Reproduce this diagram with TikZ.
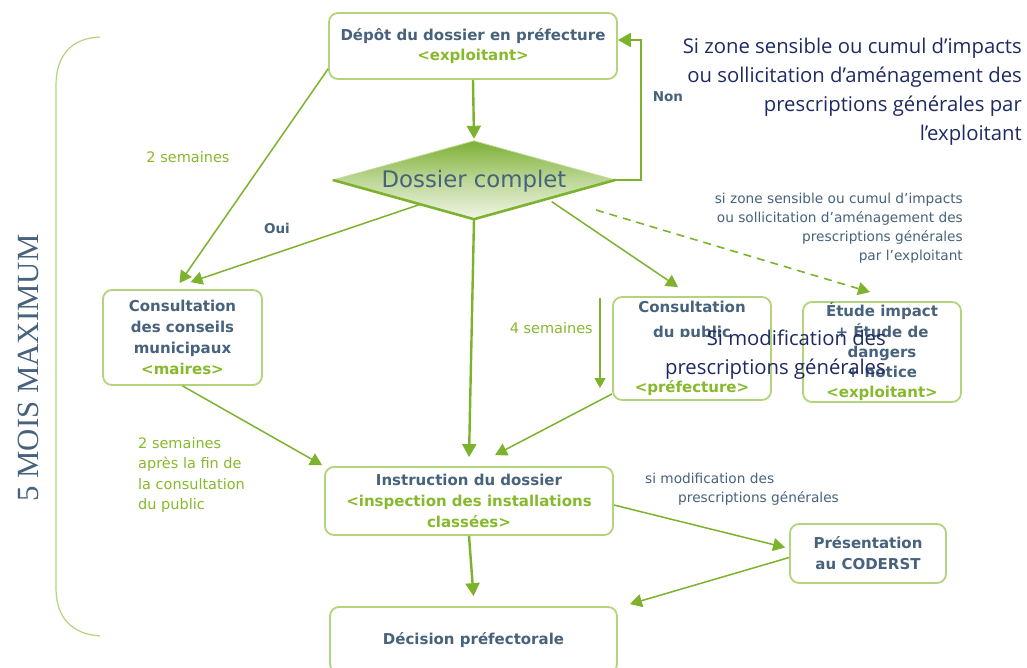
\documentclass[tikz,border=0pt]{standalone}
\usepackage{fontspec}
\setmainfont{DejaVu Sans}
\newfontfamily\ovl{Open Sans}
\newfontfamily\serf{Liberation Serif}
\usetikzlibrary{arrows.meta,calc}
\definecolor{tblue}{RGB}{70,98,124}
\definecolor{tgreen}{RGB}{135,185,45}
\definecolor{agreen}{RGB}{124,178,44}
\definecolor{bgreen}{RGB}{178,212,125}
\definecolor{navy}{RGB}{30,42,98}
\definecolor{dtop}{RGB}{125,176,52}
\definecolor{dbot}{RGB}{240,246,230}
\tikzset{
  box/.style={draw=bgreen, line width=1.8pt, rounded corners=9pt, fill=white,
    align=center, text=tblue, inner sep=0pt,
    font=\fontsize{15}{20.8}\selectfont\bfseries},
  arr/.style={draw=agreen, line width=2.4pt, -{Triangle[width=14pt,length=13pt]}},
  thinarr/.style={draw=agreen, line width=1.5pt, -{Triangle[width=13pt,length=12pt]}},
  glabel/.style={text=tgreen, font=\fontsize{14.5}{20.5}\selectfont, inner sep=0pt},
  dlabel/.style={text=tblue, font=\fontsize{13.7}{19}\selectfont, inner sep=0pt},
  ovltext/.style={text=navy, font=\ovl\fontsize{20.3}{29}\selectfont, inner sep=0pt, align=right}
}
\begin{document}
\begin{tikzpicture}[x=1pt,y=-1pt]
\useasboundingbox (0,0) rectangle (1027,668);
\clip (0,0) rectangle (1027,668);

% bracket
\draw[bgreen, line width=1.2pt] (100,37) .. controls (72,38) and (56,55) .. (56,85)
  -- (56,588) .. controls (56,618) and (72,634) .. (100,636);
\node[rotate=90, text=tblue, font=\serf\fontsize{30.8}{32}\selectfont, inner sep=0pt] (mois) at (28,368) {5 MOIS MAXIMUM};

% boxes
\node[box, minimum width=288pt, minimum height=66pt] (dep) at (473,46)
  {Dépôt du dossier en préfecture\\{\color{tgreen}<exploitant>}};
\node[minimum width=282pt, minimum height=78pt, inner sep=0pt] (diam) at (474,180) {};
\node[box, minimum width=159pt, minimum height=95pt] (cons) at (182.5,337.5)
  {Consultation\\des conseils\\municipaux\\{\color{tgreen}<maires>}};
\node[box, minimum width=158pt, minimum height=103pt, font=\fontsize{15}{20}\selectfont\bfseries] (pub) at (692,348.5)
  {Consultation\\[5pt]du public\\\phantom{x}\\[-5pt]\phantom{x}\\{\color{tgreen}<préfecture>}};
\node[box, minimum width=158pt, minimum height=100pt, font=\fontsize{15}{20.3}\selectfont\bfseries] (etude) at (882,352)
  {Étude impact\\+ Étude de\\dangers\\+ notice\\{\color{tgreen}<exploitant>}};
\node[box, minimum width=288pt, minimum height=68pt] (instr) at (469,501)
  {Instruction du dossier\\{\color{tgreen}<inspection des installations}\\{\color{tgreen}classées>}};
\node[box, minimum width=156pt, minimum height=59pt] (cod) at (868,553.5)
  {Présentation\\au CODERST};
\node[box, minimum width=287pt, minimum height=66pt] (dec) at (473.5,640)
  {Décision préfectorale};

% diamond
\shade[top color=dtop, bottom color=dbot, middle color=dtop!45!dbot]
  (diam.north) -- (diam.east) -- (diam.south) -- (diam.west) -- cycle;
\draw[bgreen!80!white, line width=0.8pt] (diam.west) -- (diam.north) -- (diam.east);
\draw[agreen, line width=2.6pt, line join=round] (diam.west) -- (diam.south) -- (diam.east);
\node[text=tblue, font=\fontsize{22.8}{24}\selectfont, inner sep=0pt] (dctext) at (474,181) {Dossier complet};

% connectors
\draw[arr] (dep.south) -- ([yshift=2pt]diam.north);
\draw[arr] (diam.east) -- ++(26,0) |- ([yshift=6pt]dep.east);
\node[text=tblue, font=\fontsize{13.5}{15}\selectfont\bfseries, inner sep=0pt] (non) at (668,97) {Non};

\draw[thinarr] ([yshift=11pt]dep.south west) -- ([xshift=-3pt,yshift=6pt]cons.north);
\node[glabel] (l2s) at (188,157) {2 semaines};

\coordinate (ouis) at ($(diam.west)!0.62!(diam.south)$);
\draw[thinarr] (ouis) -- ([xshift=8pt,yshift=7pt]cons.north);
\node[text=tblue, font=\fontsize{13.5}{15}\selectfont\bfseries, inner sep=0pt] (oui) at (277,228) {Oui};

\draw[arr] (diam.south) -- ([yshift=9pt]instr.north);
\draw[thinarr] ($(diam.south)!0.55!(diam.east)+(0,4)$) -- ([xshift=-14pt,yshift=9pt]pub.north);

\coordinate (dstart) at (596,210);
\draw[draw=agreen, line width=1.6pt, dash pattern=on 8pt off 6pt, -{Triangle[width=13pt,length=12pt]}]
  (dstart) -- ([xshift=-12pt,yshift=9pt]etude.north);
\node[dlabel, align=right, anchor=north east] (zlabel) at (963,193)
  {si zone sensible ou cumul d’impacts\\ou sollicitation d’aménagement des\\prescriptions générales\\par l’exploitant};

\coordinate (s4a) at (600,298);
\coordinate (s4b) at (600,388);
\draw[draw=agreen, line width=1.1pt, -{Triangle[width=11pt,length=10pt]}] (s4a) -- (s4b);
\node[glabel, anchor=east] (l4s) at (593,328) {4 semaines};

\draw[thinarr] (cons.south) -- ([xshift=-2pt,yshift=1pt]instr.north west);
\node[glabel, align=left, anchor=north west] (l2b) at (138,437)
  {2 semaines\\après la fin de\\la consultation\\du public};

\draw[thinarr] ([yshift=7pt]pub.south west) -- ([xshift=26pt,yshift=11pt]instr.north);

\draw[thinarr] ([yshift=-4pt]instr.east) -- ([xshift=-4pt,yshift=6pt]cod.west);
\node[dlabel, align=left, anchor=north west] (mlabel) at (645,473) {si modification des\\\hspace*{33pt}prescriptions générales};

\draw[thinarr] ([yshift=-4pt]cod.west) -- ([xshift=12pt,yshift=2pt]dec.north east);
\draw[arr] (instr.south) -- ([yshift=10pt]dec.north);

% overlay texts
\fill[white] (645,337) rectangle (767,379);
\node[ovltext, anchor=north east] (ovl1) at (1022,38)
  {Si zone sensible ou cumul d’impacts\\ou sollicitation d’aménagement des\\prescriptions générales par\\l’exploitant};
\node[ovltext, anchor=north east] (ovl2) at (886,330)
  {Si modification des\\prescriptions générales};
\end{tikzpicture}
\end{document}
